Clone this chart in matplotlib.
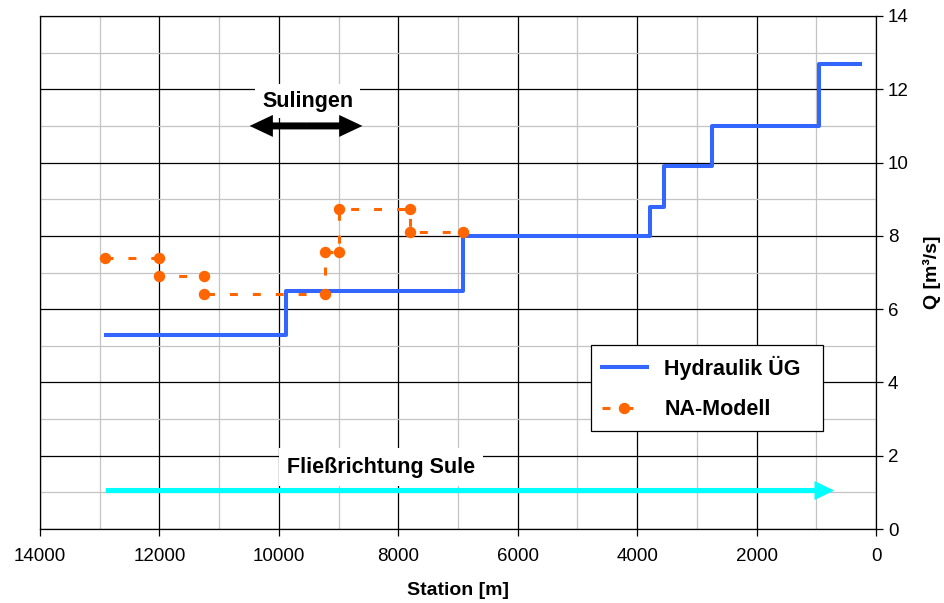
import numpy as np
import matplotlib.pyplot as plt
from matplotlib.ticker import MultipleLocator

plt.rcParams['font.family'] = ['Liberation Sans', 'DejaVu Sans']

# Hydraulik ÜG (stepped discharge along the river)
hyd_station = [12900, 9880, 9880, 6910, 6910, 3780, 3780, 3550, 3550, 2750, 2750, 950, 950, 270]
hyd_q = [5.3, 5.3, 6.5, 6.5, 8.0, 8.0, 8.8, 8.8, 9.9, 9.9, 11.0, 11.0, 12.7, 12.7]

# NA-Modell
na_station = [12910, 12000, 12000, 11250, 11250, 9230, 9230, 9000, 9000, 7800, 7800, 6920]
na_q = [7.4, 7.4, 6.9, 6.9, 6.4, 6.4, 7.56, 7.56, 8.72, 8.72, 8.11, 8.11]

# annotations: (from station, to station, Q)
flow_arrow = (12900, 700, 1.05)
sulingen_arrow = (10490, 8600, 11.0)

fig = plt.figure(figsize=(9.44, 6.03), dpi=100)
ax = fig.add_axes([40 / 944, 74 / 603, 836 / 944, 513 / 603])

ax.set_xlim(14000, 0)
ax.set_ylim(0, 14)
ax.xaxis.set_major_locator(MultipleLocator(2000))
ax.xaxis.set_minor_locator(MultipleLocator(1000))
ax.yaxis.set_major_locator(MultipleLocator(2))
ax.yaxis.set_minor_locator(MultipleLocator(1))
ax.grid(which='major', color='black', lw=0.9)
ax.grid(which='minor', color='#c4c4c4', lw=0.9)
ax.set_axisbelow(True)

ax.yaxis.tick_right()
ax.yaxis.set_label_position('right')
ax.tick_params(which='major', direction='out', length=5, width=0.9, labelsize=13.5)
ax.tick_params(axis='x', pad=9)
ax.tick_params(which='minor', length=0)
for s in ax.spines.values():
    s.set_linewidth(0.9)

ax.plot(hyd_station, hyd_q, color='#3366ff', lw=2.9, label='Hydraulik ÜG', zorder=3)
ax.plot(na_station, na_q, color='#ff6600', lw=2.2, ls=(0, (2.6, 4.9)),
        marker='o', ms=7.2, label='NA-Modell', zorder=4)

# flow direction arrow (horizontal, so head width in Q units, head length in m)
x0, x1, yq = flow_arrow
ax.arrow(x0, yq, x1 - x0, 0, width=0.14, head_width=0.52, head_length=330,
         length_includes_head=True, color='#00ffff', ec='none', zorder=6)
ax.text(8290, 1.69, 'Fließrichtung Sule', ha='center', va='center', fontsize=15.5,
        fontweight='bold', bbox=dict(facecolor='white', edgecolor='none', pad=6), zorder=5)

# double arrow for Sulingen
x0, x1, yq = sulingen_arrow
xm = (x0 + x1) / 2
for xe in (x0, x1):
    ax.arrow(xm, yq, xe - xm, 0, width=0.19, head_width=0.6, head_length=390,
             length_includes_head=True, color='black', ec='none', zorder=6)
ax.text(9520, 11.68, 'Sulingen', ha='center', va='center', fontsize=15.5,
        fontweight='bold', bbox=dict(facecolor='white', edgecolor='none', pad=5), zorder=5)

ax.set_xlabel('Station [m]', fontsize=14, fontweight='bold', labelpad=12)
ax.set_ylabel('Q [m³/s]', fontsize=14, fontweight='bold', labelpad=10)

leg = ax.legend(loc='upper left',
                bbox_to_anchor=(551 / 836, (529 - 430) / 513, 232 / 836, 85 / 513),
                mode='expand', frameon=True, fancybox=False, edgecolor='black',
                framealpha=1, prop=dict(size=15.5, weight='bold'), handlelength=2.1,
                borderpad=0.5, labelspacing=0.9, borderaxespad=0)
leg.get_frame().set_linewidth(0.9)

fig.savefig('out.png', dpi=100)
